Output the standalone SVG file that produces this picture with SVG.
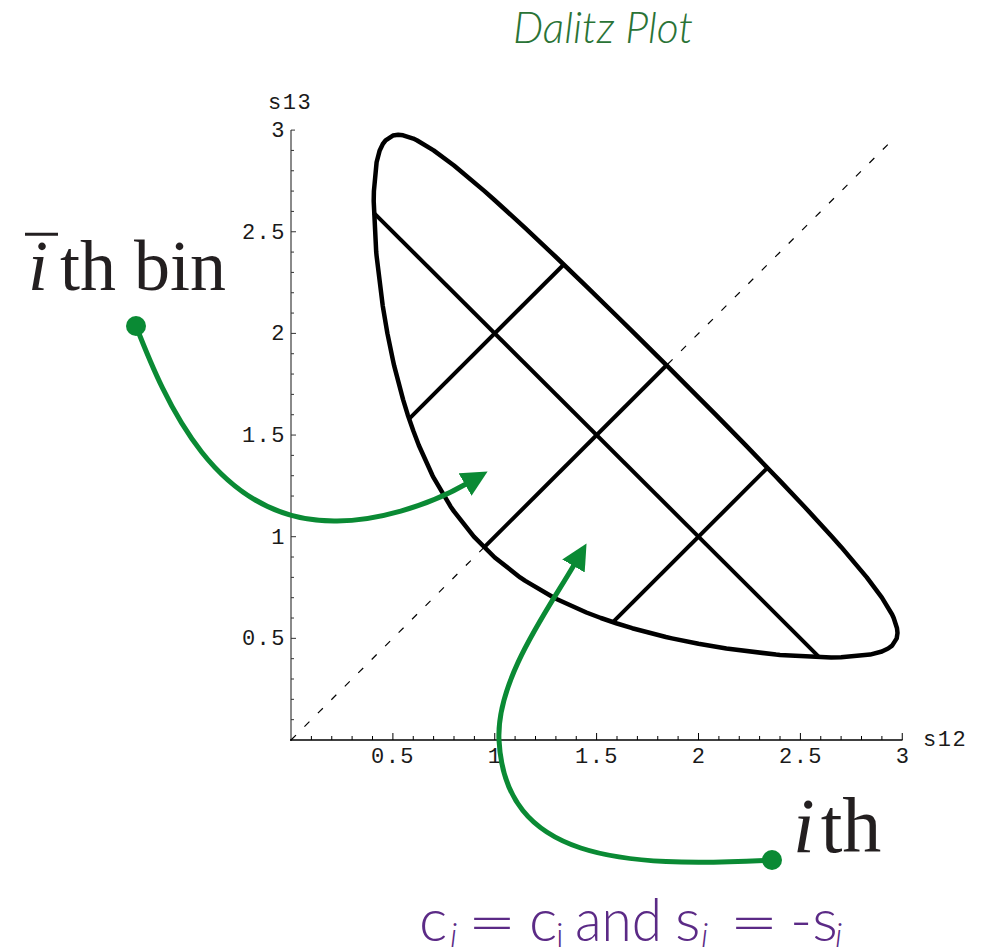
<svg xmlns="http://www.w3.org/2000/svg" width="989" height="950" viewBox="0 0 989 950">
<style>
.tick{fill:#1a1a1a;font-family:"Liberation Mono","DejaVu Sans Mono",monospace;font-size:22px;letter-spacing:1.5px}
.ser{fill:#231f20;font-family:"Liberation Serif","Times New Roman",serif}
.bnd{fill:none;stroke:#000;stroke-width:4.5;stroke-linejoin:round}
.grid{fill:none;stroke:#000;stroke-width:4;stroke-linecap:butt}
.arr{fill:none;stroke:#0a8a34;stroke-width:5;stroke-linecap:round}
.cap{fill:#5b2a86;font-family:Lato,"Open Sans",sans-serif;font-weight:300;font-size:60px}
.sub{fill:#5b2a86;font-family:Lato,"Open Sans",sans-serif;font-weight:300;font-size:34px}
</style>
<defs>
<marker id="ah" markerUnits="userSpaceOnUse" markerWidth="26" markerHeight="26" viewBox="0 0 24 24" refX="1" refY="12" orient="auto">
<path d="M0,0 L24,12 L0,24 z" fill="#0a8a34"/>
</marker>
</defs>
<rect width="989" height="950" fill="#fff"/>
<g id="title">
<text x="513" y="43" font-family="Lato,'Open Sans',sans-serif" font-weight="300" font-style="italic" font-size="43" fill="#2a7336" textLength="180" lengthAdjust="spacingAndGlyphs">Dalitz Plot</text>
</g>
<g id="axes">
<line x1="291" y1="130" x2="291" y2="741" stroke="#8a8a8a" stroke-width="2"/>
<line x1="290" y1="740" x2="902.5" y2="740" stroke="#000" stroke-width="1.6"/>
<path stroke="#333" stroke-width="1" fill="none" d="M291,130.1h4M291,150.43h3M291,170.76h3M291,191.09h3M291,211.42h3M291,231.75h5M291,252.08h3M291,272.41h3M291,292.74h3M291,313.07h3M291,333.4h5M291,353.73h3M291,374.06h3M291,394.39h3M291,414.72h3M291,435.05h5M291,455.38h3M291,475.71h3M291,496.04h3M291,516.37h3M291,536.7h5M291,557.03h3M291,577.36h3M291,597.69h3M291,618.02h3M291,638.35h5M291,658.68h3M291,679.01h3M291,699.34h3M291,719.67h3"/>
<path stroke="#000" stroke-width="1" fill="none" d="M311.4,740v-4M331.75,740v-4M352.1,740v-4M372.5,740v-4M392.9,740v-7M413.25,740v-4M433.6,740v-4M454,740v-4M474.4,740v-4M494.75,740v-7M515.1,740v-4M535.5,740v-4M555.9,740v-4M576.25,740v-4M596.6,740v-7M617,740v-4M637.4,740v-4M657.75,740v-4M678.1,740v-4M698.5,740v-7M718.9,740v-4M739.25,740v-4M759.6,740v-4M780,740v-4M800.4,740v-7M820.75,740v-4M841.1,740v-4M861.5,740v-4M881.9,740v-4M902.25,740v-7"/>
<text class="tick" x="268" y="109">s13</text>
<text class="tick" x="923" y="746">s12</text>
<g text-anchor="end">
<text class="tick" x="286" y="137">3</text>
<text class="tick" x="286" y="239">2.5</text>
<text class="tick" x="286" y="340">2</text>
<text class="tick" x="286" y="442">1.5</text>
<text class="tick" x="286" y="544">1</text>
<text class="tick" x="286" y="645">0.5</text>
</g>
<g text-anchor="middle">
<text class="tick" x="393" y="763">0.5</text>
<text class="tick" x="495" y="763">1</text>
<text class="tick" x="597" y="763">1.5</text>
<text class="tick" x="699" y="763">2</text>
<text class="tick" x="801" y="763">2.5</text>
<text class="tick" x="903" y="763">3</text>
</g>
</g>
<g id="plot">
<line x1="291" y1="740" x2="892.1" y2="140.3" stroke="#000" stroke-width="1.2" stroke-dasharray="7 12"/>
<path class="bnd" d="M373.7,201.1 L373.9,191.1 L376.6,162.2 L379.7,150.4 L382.7,144.2 L385.6,140.3 L392.9,135.6 L398.2,134.85 L403.1,135.35 L413.3,138.6 L416.8,140.3 L433.6,150.35 L454,165.45 L484.5,191.1 L494.75,200.2 L525.3,228.15 L550.7,252.1 L555.9,257 L586.4,286.4 L617,316.25 L634.4,333.4 L665.9,364.7 L698.5,397.3 L715.7,414.7 L745.6,445.2 L775.1,475.7 L780,480.9 L804,506.2 L832,536.7 L841.1,546.9 L866.8,577.4 L881.9,597.55 L892.1,614.5 L893.7,618 L897,628.2 L897.5,633 L896.7,638.35 L892.1,645.6 L888.1,648.5 L881.9,651.5 L870.1,654.6 L841.1,657.3 L831.1,657.5 L780,655 L776,654.6 L726.4,648.5 L698.5,643.8 L671.9,638.35 L665.9,637 L632.2,628.2 L617,623.5 L600.9,618 L586.4,612.5 L555.9,598.7 L554,597.7 L525.3,580.9 L520.1,577.4 L494.75,557.5 L473.9,536.7 L454,511.4 L450.4,506.2 L433.6,477.6 L432.6,475.7 L418.8,445.2 L413.3,430.8 L407.7,414.7 L403.1,399.6 L394.2,365.9 L392.9,360 L387.4,333.4 L382.7,305.6 L376.6,256 L376.2,252.1 Z"/>
<g class="grid">
<line x1="373.8" y1="212.8" x2="819.4" y2="657.3"/>
<line x1="484.1" y1="547.4" x2="666.8" y2="365"/>
<line x1="409.1" y1="418.8" x2="563.8" y2="264.5"/>
<line x1="612.9" y1="622.1" x2="767.5" y2="467.8"/>
</g>
</g>
<g id="connectors">
<path class="arr" d="M136,326 C165,400 215,523 337,521 C375,521 426,507 466,484" marker-end="url(#ah)"/>
<path class="arr" d="M772,860 C620,868 505,860 499,740 C496,680 549,608 574,565" marker-end="url(#ah)"/>
</g>
<g id="label-ibar">
<line x1="25" y1="234.3" x2="58" y2="234.3" stroke="#231f20" stroke-width="3"/>
<text class="ser" x="28" y="290" font-size="72"><tspan font-style="italic">i</tspan><tspan dx="12">th bin</tspan></text>
<circle cx="136" cy="326" r="10" fill="#0a8a34"/>
</g>
<g id="label-i">
<text class="ser" x="793" y="852" font-size="78"><tspan font-style="italic">i</tspan><tspan dx="6">th</tspan></text>
<circle cx="772" cy="860" r="10" fill="#0a8a34"/>
</g>
<g id="caption">
<text class="cap" x="419" y="941">c</text>
<text class="sub" x="450" y="947" font-style="italic">i</text>
<text class="cap" x="467" y="943" font-size="72" textLength="50" lengthAdjust="spacingAndGlyphs">=</text>
<text class="cap" x="529" y="941">c</text>
<text class="sub" x="556" y="947">i</text>
<text class="cap" x="575" y="941" textLength="87" lengthAdjust="spacingAndGlyphs">and</text>
<text class="cap" x="675" y="941">s</text>
<text class="sub" x="701" y="947" font-style="italic">i</text>
<text class="cap" x="729" y="943" font-size="72" textLength="50" lengthAdjust="spacingAndGlyphs">=</text>
<text class="cap" x="790" y="941">-s</text>
<text class="sub" x="835" y="947" font-style="italic">i</text>
</g>
</svg>
